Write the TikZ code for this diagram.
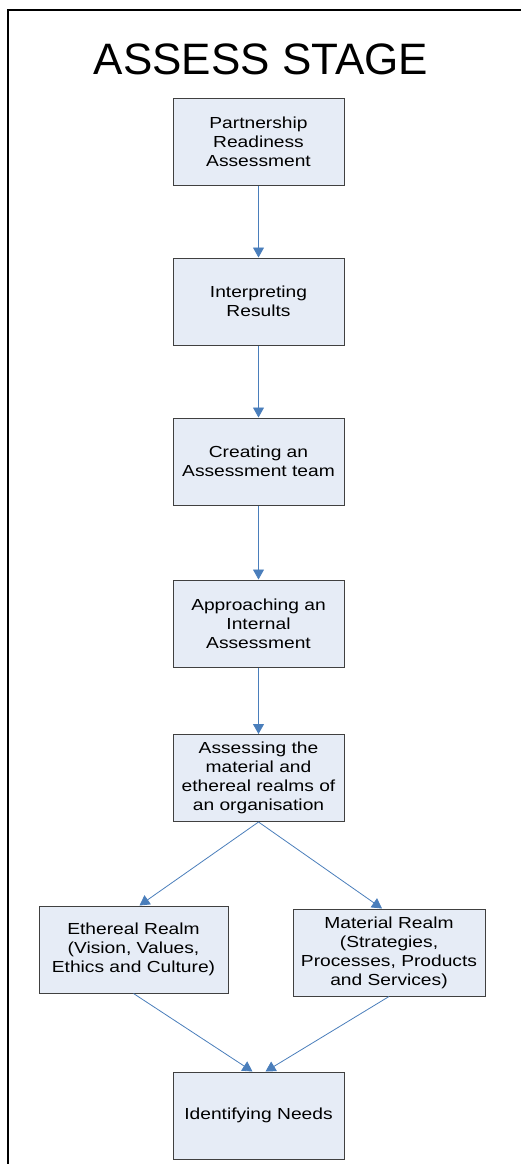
\documentclass[tikz,border=0pt]{standalone}
\usepackage{fontspec}
\setmainfont{Liberation Sans}
\newfontfamily\boxfont[FakeStretch=1.2]{Liberation Sans}
\usetikzlibrary{arrows.meta}
\definecolor{boxfill}{HTML}{E6ECF6}
\definecolor{boxline}{HTML}{404040}
\definecolor{arrowblue}{HTML}{4A7EBB}
\begin{document}
\begin{tikzpicture}[x=1pt,y=-1pt,
  box/.style={draw=boxline, line width=1pt, fill=boxfill, minimum width=171pt,
    minimum height=87pt, align=center, inner sep=0pt,
    font=\boxfont\fontsize{16}{19}\selectfont},
  conn/.style={draw=arrowblue, line width=0.8pt, -{Triangle[width=11pt,length=10pt]}}]
\useasboundingbox (0,0) rectangle (521,1164);
\draw[line width=2pt] (8,1175) -- (8,10) -- (530,10);
\node[font=\fontsize{44}{50}\selectfont] (title) at (261,59) {ASSESS STAGE};
\node[box] (b1) at (258.5,141.5) {Partnership\\Readiness\\Assessment};
\node[box] (b2) at (258.5,301.5) {Interpreting\\Results};
\node[box] (b3) at (258.5,461.5) {Creating an\\Assessment team};
\node[box] (b4) at (258.5,623.5) {Approaching an\\Internal\\Assessment};
\node[box] (b5) at (258.5,778) {Assessing the\\material and\\ethereal realms of\\an organisation};
\node[box, minimum width=189pt] (eth) at (133.5,949.5) {Ethereal Realm\\(Vision, Values,\\Ethics and Culture)};
\node[box, minimum width=192pt] (mat) at (389,952.5) {Material Realm\\(Strategies,\\Processes, Products\\and Services)};
\node[box] (need) at (258.5,1115.5) {Identifying Needs};
\draw[conn] (b1.south) -- (b2.north);
\draw[conn] (b2.south) -- (b3.north);
\draw[conn] (b3.south) -- (b4.north);
\draw[conn] (b4.south) -- (b5.north);
\draw[conn] (b5.south) -- ([xshift=6pt]eth.north);
\draw[conn] (b5.south) -- ([xshift=-7pt]mat.north);
\draw[conn] (eth.south) -- ([xshift=-6pt]need.north);
\draw[conn] (mat.south) -- ([xshift=7pt]need.north);
\end{tikzpicture}
\end{document}
